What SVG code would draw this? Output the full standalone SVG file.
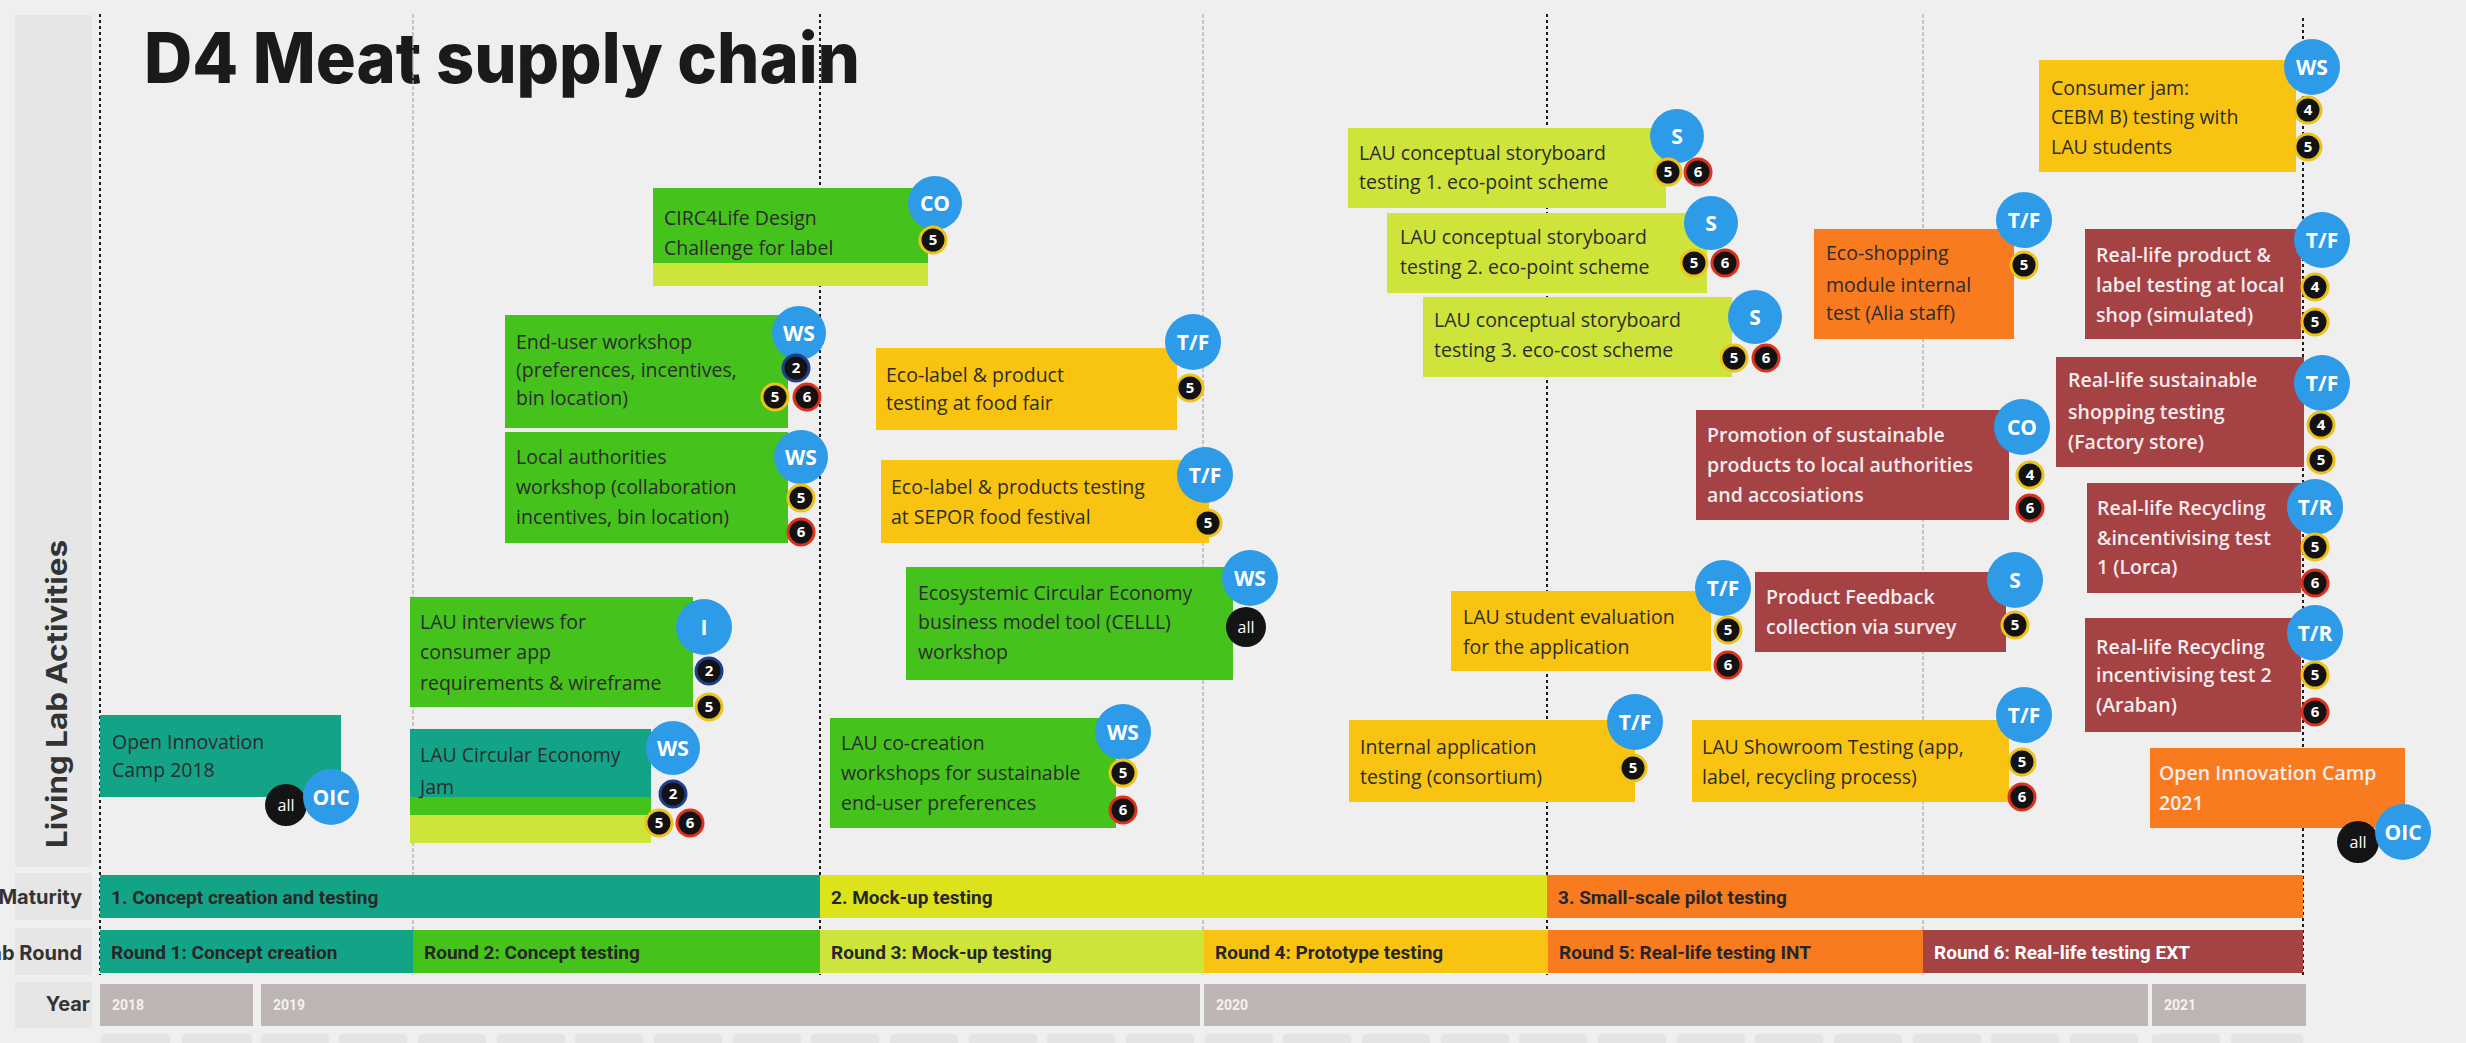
<svg xmlns="http://www.w3.org/2000/svg" width="2466" height="1043" viewBox="0 0 2466 1043">
  <style>
    .title { font-family: Inter, "Noto Sans", "DejaVu Sans", sans-serif; font-weight: 800; fill: #1a1a1a; }
    .side { font-family: Inter, "Noto Sans", sans-serif; font-weight: 700; fill: #333; }
    .lbl { font-family: "Open Sans", "Noto Sans", sans-serif; font-size: 19.5px; fill: #2c2c2c; }
    .lbl.w { fill: #f6ecef; font-weight: 600; }
    .bar { font-family: Roboto, "Noto Sans", sans-serif; font-weight: 700; font-size: 19px; fill: #262626; }
    .bar.w { fill: #ffffff; }
    .yr { font-family: Roboto, "Noto Sans", sans-serif; font-weight: 700; font-size: 14px; fill: #f5f1f0; }
    .teal { fill: #13a487; }
    .green { fill: #45c21c; }
    .lime { fill: #cee43b; }
    .mlime { fill: #dde31b; }
    .yellow { fill: #f9c411; }
    .orange { fill: #f97b1f; }
    .maroon { fill: #a54244; }
    .grey { fill: #bdb5b3; }
    .month { fill: #e4e4e4; }
    .cell { fill: #e6e6e6; }
    .dark { stroke: #1c1c1c; stroke-width: 2; stroke-dasharray: 3 3; fill: none; }
    .thin { stroke: #a9a9a9; stroke-width: 1.2; stroke-dasharray: 4 2; fill: none; }
    .tag circle { fill: #2e9be9; }
    .tag text { font-family: "Open Sans", "Noto Sans", sans-serif; font-weight: 700; font-size: 21px; fill: #ffffff; text-anchor: middle; }
    .num circle { fill: #121212; stroke-width: 3; }
    .num text { font-family: "Open Sans", "Noto Sans", sans-serif; font-weight: 700; font-size: 15px; fill: #ffffff; text-anchor: middle; }
    .n2 circle { stroke: #1f3f8c; }
    .n4 circle { stroke: #e7c21c; }
    .n5 circle { stroke: #efc219; }
    .n6 circle { stroke: #df301e; }
    .all circle { fill: #141414; }
    .all text { font-family: "Open Sans", "Noto Sans", sans-serif; font-size: 16px; fill: #ffffff; text-anchor: middle; }
  </style>

  <rect x="0" y="0" width="2466" height="1043" fill="#efefef"/>

  <!-- left header column -->
  <g id="side-column">
    <rect class="cell" x="15" y="15" width="77" height="852"/>
    <rect class="cell" x="15" y="873" width="77" height="47"/>
    <rect class="cell" x="15" y="928" width="77" height="47"/>
    <rect class="cell" x="15" y="982" width="77" height="46"/>
    <text class="side" font-size="28" transform="translate(67,694) rotate(-90)" text-anchor="middle" textLength="308" lengthAdjust="spacingAndGlyphs">Living Lab Activities</text>
    <text class="side" font-size="20" x="82" y="904" text-anchor="end">Maturity</text>
    <text class="side" font-size="20" x="82" y="960" text-anchor="end">Lab Round</text>
    <text class="side" font-size="20" x="90" y="1011" text-anchor="end">Year</text>
  </g>

  <text class="title" x="144" y="83" font-size="70" textLength="716" lengthAdjust="spacingAndGlyphs">D4 Meat supply chain</text>

  <!-- period boundaries -->
  <g id="gridlines">
    <line class="dark" x1="100" y1="14" x2="100" y2="975"/>
    <line class="thin" x1="413" y1="14" x2="413" y2="975"/>
    <line class="dark" x1="820" y1="14" x2="820" y2="975"/>
    <line class="thin" x1="1203" y1="14" x2="1203" y2="975"/>
    <line class="dark" x1="1547" y1="14" x2="1547" y2="975"/>
    <line class="thin" x1="1923" y1="14" x2="1923" y2="975"/>
    <line class="dark" x1="2303" y1="18" x2="2303" y2="975"/>
  </g>

  <!-- timeline bars -->
  <g id="maturity">
    <rect class="teal" x="100" y="875" width="720" height="43"/>
    <rect class="mlime" x="820" y="875" width="727" height="43"/>
    <rect class="orange" x="1547" y="875" width="756" height="43"/>
    <text class="bar" x="111" y="904">1. Concept creation and testing</text>
    <text class="bar" x="831" y="904">2. Mock-up testing</text>
    <text class="bar" x="1558" y="904">3. Small-scale pilot testing</text>
  </g>
  <g id="lab-round">
    <rect class="teal" x="100" y="930" width="313" height="43"/>
    <rect class="green" x="413" y="930" width="407" height="43"/>
    <rect class="lime" x="820" y="930" width="384" height="43"/>
    <rect class="yellow" x="1204" y="930" width="344" height="43"/>
    <rect class="orange" x="1548" y="930" width="375" height="43"/>
    <rect class="maroon" x="1923" y="930" width="380" height="43"/>
    <text class="bar" x="111" y="959">Round 1: Concept creation</text>
    <text class="bar" x="424" y="959">Round 2: Concept testing</text>
    <text class="bar" x="831" y="959">Round 3: Mock-up testing</text>
    <text class="bar" x="1215" y="959">Round 4: Prototype testing</text>
    <text class="bar" x="1559" y="959">Round 5: Real-life testing INT</text>
    <text class="bar w" x="1934" y="959">Round 6: Real-life testing EXT</text>
  </g>
  <g id="year">
    <rect class="grey" x="100" y="984" width="153" height="42"/>
    <rect class="grey" x="261" y="984" width="939" height="42"/>
    <rect class="grey" x="1204" y="984" width="944" height="42"/>
    <rect class="grey" x="2152" y="984" width="154" height="42"/>
    <text class="yr" x="112" y="1010">2018</text>
    <text class="yr" x="273" y="1010">2019</text>
    <text class="yr" x="1216" y="1010">2020</text>
    <text class="yr" x="2164" y="1010">2021</text>
  </g>
  <g id="months">
    <rect class="month" x="101" y="1034" width="69" height="20" rx="4"/>
    <rect class="month" x="182" y="1034" width="70" height="20" rx="4"/>
    <rect class="month" x="261" y="1034" width="68" height="20" rx="4"/>
    <rect class="month" x="339" y="1034" width="68" height="20" rx="4"/>
    <rect class="month" x="418" y="1034" width="68" height="20" rx="4"/>
    <rect class="month" x="497" y="1034" width="68" height="20" rx="4"/>
    <rect class="month" x="575" y="1034" width="68" height="20" rx="4"/>
    <rect class="month" x="654" y="1034" width="68" height="20" rx="4"/>
    <rect class="month" x="733" y="1034" width="68" height="20" rx="4"/>
    <rect class="month" x="811" y="1034" width="68" height="20" rx="4"/>
    <rect class="month" x="890" y="1034" width="68" height="20" rx="4"/>
    <rect class="month" x="969" y="1034" width="68" height="20" rx="4"/>
    <rect class="month" x="1047" y="1034" width="68" height="20" rx="4"/>
    <rect class="month" x="1126" y="1034" width="68" height="20" rx="4"/>
    <rect class="month" x="1205" y="1034" width="68" height="20" rx="4"/>
    <rect class="month" x="1283" y="1034" width="68" height="20" rx="4"/>
    <rect class="month" x="1362" y="1034" width="68" height="20" rx="4"/>
    <rect class="month" x="1441" y="1034" width="68" height="20" rx="4"/>
    <rect class="month" x="1519" y="1034" width="68" height="20" rx="4"/>
    <rect class="month" x="1598" y="1034" width="68" height="20" rx="4"/>
    <rect class="month" x="1677" y="1034" width="68" height="20" rx="4"/>
    <rect class="month" x="1755" y="1034" width="68" height="20" rx="4"/>
    <rect class="month" x="1834" y="1034" width="68" height="20" rx="4"/>
    <rect class="month" x="1913" y="1034" width="68" height="20" rx="4"/>
    <rect class="month" x="1991" y="1034" width="68" height="20" rx="4"/>
    <rect class="month" x="2070" y="1034" width="68" height="20" rx="4"/>
    <rect class="month" x="2152" y="1034" width="68" height="20" rx="4"/>
    <rect class="month" x="2231" y="1034" width="72" height="20" rx="4"/>
  </g>

  <!-- activities -->
  <g id="oic-2018">
    <rect class="teal" x="100" y="715" width="241" height="82"/>
    <text class="lbl" x="112" y="749">Open Innovation</text>
    <text class="lbl" x="112" y="777">Camp 2018</text>
    <g class="all"><circle cx="286" cy="805" r="21"/><text x="286" y="811">all</text></g>
    <g class="tag"><circle cx="331" cy="797" r="28"/><text x="331" y="805">OIC</text></g>
  </g>

  <g id="circ4life-challenge">
    <rect class="green" x="653" y="188" width="275" height="75"/>
    <rect class="lime" x="653" y="263" width="275" height="23"/>
    <text class="lbl" x="664" y="225">CIRC4Life Design</text>
    <text class="lbl" x="664" y="255">Challenge for label</text>
    <g class="tag"><circle cx="935" cy="203" r="27"/><text x="935" y="211">CO</text></g>
    <g class="num n5"><circle cx="933" cy="240" r="13"/><text x="933" y="245">5</text></g>
  </g>

  <g id="end-user-workshop">
    <rect class="green" x="505" y="315" width="283" height="113"/>
    <text class="lbl" x="516" y="349">End-user workshop</text>
    <text class="lbl" x="516" y="377">(preferences, incentives,</text>
    <text class="lbl" x="516" y="405">bin location)</text>
    <g class="tag"><circle cx="799" cy="333" r="27"/><text x="799" y="341">WS</text></g>
    <g class="num n2"><circle cx="796" cy="368" r="13"/><text x="796" y="373">2</text></g>
    <g class="num n5"><circle cx="775" cy="397" r="13"/><text x="775" y="402">5</text></g>
    <g class="num n6"><circle cx="807" cy="397" r="13"/><text x="807" y="402">6</text></g>
  </g>

  <g id="local-authorities-workshop">
    <rect class="green" x="505" y="432" width="283" height="111"/>
    <text class="lbl" x="516" y="464">Local authorities</text>
    <text class="lbl" x="516" y="494">workshop (collaboration</text>
    <text class="lbl" x="516" y="524">incentives, bin location)</text>
    <g class="tag"><circle cx="801" cy="457" r="27"/><text x="801" y="465">WS</text></g>
    <g class="num n5"><circle cx="801" cy="498" r="13"/><text x="801" y="503">5</text></g>
    <g class="num n6"><circle cx="801" cy="532" r="13"/><text x="801" y="537">6</text></g>
  </g>

  <g id="lau-interviews">
    <rect class="green" x="410" y="597" width="283" height="110"/>
    <text class="lbl" x="420" y="629">LAU interviews for</text>
    <text class="lbl" x="420" y="659">consumer app</text>
    <text class="lbl" x="420" y="690">requirements &amp; wireframe</text>
    <g class="tag"><circle cx="704" cy="627" r="28"/><text x="704" y="635">I</text></g>
    <g class="num n2"><circle cx="709" cy="671" r="13"/><text x="709" y="676">2</text></g>
    <g class="num n5"><circle cx="709" cy="707" r="13"/><text x="709" y="712">5</text></g>
  </g>

  <g id="lau-ce-jam">
    <rect class="teal" x="410" y="729" width="241" height="68"/>
    <rect class="green" x="410" y="797" width="241" height="18"/>
    <rect class="lime" x="410" y="815" width="241" height="28"/>
    <text class="lbl" x="420" y="762">LAU Circular Economy</text>
    <text class="lbl" x="420" y="794">Jam</text>
    <g class="tag"><circle cx="673" cy="748" r="27"/><text x="673" y="756">WS</text></g>
    <g class="num n2"><circle cx="673" cy="794" r="13"/><text x="673" y="799">2</text></g>
    <g class="num n5"><circle cx="659" cy="823" r="13"/><text x="659" y="828">5</text></g>
    <g class="num n6"><circle cx="690" cy="823" r="13"/><text x="690" y="828">6</text></g>
  </g>

  <g id="eco-label-food-fair">
    <rect class="yellow" x="876" y="348" width="301" height="82"/>
    <text class="lbl" x="886" y="382">Eco-label &amp; product</text>
    <text class="lbl" x="886" y="410">testing at food fair</text>
    <g class="tag"><circle cx="1193" cy="342" r="28"/><text x="1193" y="350">T/F</text></g>
    <g class="num n5"><circle cx="1190" cy="388" r="13"/><text x="1190" y="393">5</text></g>
  </g>

  <g id="eco-label-sepor">
    <rect class="yellow" x="881" y="460" width="328" height="83"/>
    <text class="lbl" x="891" y="494">Eco-label &amp; products testing</text>
    <text class="lbl" x="891" y="524">at SEPOR food festival</text>
    <g class="tag"><circle cx="1205" cy="475" r="28"/><text x="1205" y="483">T/F</text></g>
    <g class="num n5"><circle cx="1208" cy="523" r="13"/><text x="1208" y="528">5</text></g>
  </g>

  <g id="cellll-workshop">
    <rect class="green" x="906" y="567" width="327" height="113"/>
    <text class="lbl" x="918" y="600">Ecosystemic Circular Economy</text>
    <text class="lbl" x="918" y="629">business model tool (CELLL)</text>
    <text class="lbl" x="918" y="659">workshop</text>
    <g class="tag"><circle cx="1250" cy="578" r="28"/><text x="1250" y="586">WS</text></g>
    <g class="all"><circle cx="1246" cy="627" r="20"/><text x="1246" y="633">all</text></g>
  </g>

  <g id="lau-co-creation">
    <rect class="green" x="830" y="718" width="286" height="110"/>
    <text class="lbl" x="841" y="750">LAU co-creation</text>
    <text class="lbl" x="841" y="780">workshops for sustainable</text>
    <text class="lbl" x="841" y="810">end-user preferences</text>
    <g class="tag"><circle cx="1123" cy="732" r="28"/><text x="1123" y="740">WS</text></g>
    <g class="num n5"><circle cx="1123" cy="773" r="13"/><text x="1123" y="778">5</text></g>
    <g class="num n6"><circle cx="1123" cy="810" r="13"/><text x="1123" y="815">6</text></g>
  </g>

  <g id="storyboard-1">
    <rect class="lime" x="1348" y="128" width="318" height="80"/>
    <text class="lbl" x="1359" y="160">LAU conceptual storyboard</text>
    <text class="lbl" x="1359" y="189">testing 1. eco-point scheme</text>
    <g class="tag"><circle cx="1677" cy="136" r="27"/><text x="1677" y="144">S</text></g>
    <g class="num n5"><circle cx="1668" cy="172" r="13"/><text x="1668" y="177">5</text></g>
    <g class="num n6"><circle cx="1698" cy="172" r="13"/><text x="1698" y="177">6</text></g>
  </g>

  <g id="storyboard-2">
    <rect class="lime" x="1387" y="213" width="320" height="80"/>
    <text class="lbl" x="1400" y="244">LAU conceptual storyboard</text>
    <text class="lbl" x="1400" y="274">testing 2. eco-point scheme</text>
    <g class="tag"><circle cx="1711" cy="223" r="27"/><text x="1711" y="231">S</text></g>
    <g class="num n5"><circle cx="1694" cy="263" r="13"/><text x="1694" y="268">5</text></g>
    <g class="num n6"><circle cx="1725" cy="263" r="13"/><text x="1725" y="268">6</text></g>
  </g>

  <g id="storyboard-3">
    <rect class="lime" x="1423" y="297" width="309" height="80"/>
    <text class="lbl" x="1434" y="327">LAU conceptual storyboard</text>
    <text class="lbl" x="1434" y="357">testing 3. eco-cost scheme</text>
    <g class="tag"><circle cx="1755" cy="317" r="27"/><text x="1755" y="325">S</text></g>
    <g class="num n5"><circle cx="1734" cy="358" r="13"/><text x="1734" y="363">5</text></g>
    <g class="num n6"><circle cx="1766" cy="358" r="13"/><text x="1766" y="363">6</text></g>
  </g>

  <g id="internal-app-testing">
    <rect class="yellow" x="1349" y="720" width="286" height="82"/>
    <text class="lbl" x="1360" y="754">Internal application</text>
    <text class="lbl" x="1360" y="784">testing (consortium)</text>
    <g class="tag"><circle cx="1635" cy="722" r="28"/><text x="1635" y="730">T/F</text></g>
    <g class="num n5"><circle cx="1633" cy="768" r="13"/><text x="1633" y="773">5</text></g>
  </g>

  <g id="lau-student-evaluation">
    <rect class="yellow" x="1451" y="591" width="260" height="80"/>
    <text class="lbl" x="1463" y="624">LAU student evaluation</text>
    <text class="lbl" x="1463" y="654">for the application</text>
    <g class="tag"><circle cx="1723" cy="588" r="28"/><text x="1723" y="596">T/F</text></g>
    <g class="num n5"><circle cx="1728" cy="630" r="13"/><text x="1728" y="635">5</text></g>
    <g class="num n6"><circle cx="1728" cy="665" r="13"/><text x="1728" y="670">6</text></g>
  </g>

  <g id="product-feedback">
    <rect class="maroon" x="1755" y="572" width="251" height="80"/>
    <text class="lbl w" x="1766" y="604">Product Feedback</text>
    <text class="lbl w" x="1766" y="634">collection via survey</text>
    <g class="tag"><circle cx="2015" cy="580" r="28"/><text x="2015" y="588">S</text></g>
    <g class="num n5"><circle cx="2015" cy="625" r="13"/><text x="2015" y="630">5</text></g>
  </g>

  <g id="promotion">
    <rect class="maroon" x="1696" y="410" width="313" height="110"/>
    <text class="lbl w" x="1707" y="442">Promotion of sustainable</text>
    <text class="lbl w" x="1707" y="472">products to local authorities</text>
    <text class="lbl w" x="1707" y="502">and accosiations</text>
    <g class="tag"><circle cx="2022" cy="427" r="28"/><text x="2022" y="435">CO</text></g>
    <g class="num n4"><circle cx="2030" cy="475" r="13"/><text x="2030" y="480">4</text></g>
    <g class="num n6"><circle cx="2030" cy="508" r="13"/><text x="2030" y="513">6</text></g>
  </g>

  <g id="lau-showroom">
    <rect class="yellow" x="1692" y="720" width="317" height="82"/>
    <text class="lbl" x="1702" y="754">LAU Showroom Testing (app,</text>
    <text class="lbl" x="1702" y="784">label, recycling process)</text>
    <g class="tag"><circle cx="2024" cy="715" r="28"/><text x="2024" y="723">T/F</text></g>
    <g class="num n5"><circle cx="2022" cy="762" r="13"/><text x="2022" y="767">5</text></g>
    <g class="num n6"><circle cx="2022" cy="797" r="13"/><text x="2022" y="802">6</text></g>
  </g>

  <g id="eco-shopping">
    <rect class="orange" x="1814" y="229" width="200" height="110"/>
    <text class="lbl" x="1826" y="260">Eco-shopping</text>
    <text class="lbl" x="1826" y="292">module internal</text>
    <text class="lbl" x="1826" y="320">test (Alia staff)</text>
    <g class="tag"><circle cx="2024" cy="220" r="28"/><text x="2024" y="228">T/F</text></g>
    <g class="num n5"><circle cx="2024" cy="265" r="13"/><text x="2024" y="270">5</text></g>
  </g>

  <g id="consumer-jam">
    <rect class="yellow" x="2039" y="60" width="257" height="112"/>
    <text class="lbl" x="2051" y="95">Consumer jam:</text>
    <text class="lbl" x="2051" y="124">CEBM B) testing with</text>
    <text class="lbl" x="2051" y="154">LAU students</text>
    <g class="tag"><circle cx="2312" cy="67" r="28"/><text x="2312" y="75">WS</text></g>
    <g class="num n4"><circle cx="2308" cy="110" r="13"/><text x="2308" y="115">4</text></g>
    <g class="num n5"><circle cx="2308" cy="147" r="13"/><text x="2308" y="152">5</text></g>
  </g>

  <g id="real-life-label-testing">
    <rect class="maroon" x="2085" y="229" width="216" height="110"/>
    <text class="lbl w" x="2096" y="262">Real-life product &amp;</text>
    <text class="lbl w" x="2096" y="292">label testing at local</text>
    <text class="lbl w" x="2096" y="322">shop (simulated)</text>
    <g class="tag"><circle cx="2322" cy="240" r="28"/><text x="2322" y="248">T/F</text></g>
    <g class="num n4"><circle cx="2315" cy="287" r="13"/><text x="2315" y="292">4</text></g>
    <g class="num n5"><circle cx="2315" cy="322" r="13"/><text x="2315" y="327">5</text></g>
  </g>

  <g id="real-life-shopping">
    <rect class="maroon" x="2056" y="357" width="248" height="110"/>
    <text class="lbl w" x="2068" y="387">Real-life sustainable</text>
    <text class="lbl w" x="2068" y="419">shopping testing</text>
    <text class="lbl w" x="2068" y="449">(Factory store)</text>
    <g class="tag"><circle cx="2322" cy="383" r="28"/><text x="2322" y="391">T/F</text></g>
    <g class="num n4"><circle cx="2321" cy="425" r="13"/><text x="2321" y="430">4</text></g>
    <g class="num n5"><circle cx="2321" cy="460" r="13"/><text x="2321" y="465">5</text></g>
  </g>

  <g id="recycling-test-1">
    <rect class="maroon" x="2087" y="483" width="214" height="110"/>
    <text class="lbl w" x="2097" y="515">Real-life Recycling</text>
    <text class="lbl w" x="2097" y="545">&amp;incentivising test</text>
    <text class="lbl w" x="2097" y="574">1 (Lorca)</text>
    <g class="tag"><circle cx="2315" cy="507" r="28"/><text x="2315" y="515">T/R</text></g>
    <g class="num n5"><circle cx="2315" cy="547" r="13"/><text x="2315" y="552">5</text></g>
    <g class="num n6"><circle cx="2315" cy="583" r="13"/><text x="2315" y="588">6</text></g>
  </g>

  <g id="recycling-test-2">
    <rect class="maroon" x="2085" y="618" width="216" height="114"/>
    <text class="lbl w" x="2096" y="654">Real-life Recycling</text>
    <text class="lbl w" x="2096" y="682">incentivising test 2</text>
    <text class="lbl w" x="2096" y="712">(Araban)</text>
    <g class="tag"><circle cx="2315" cy="633" r="28"/><text x="2315" y="641">T/R</text></g>
    <g class="num n5"><circle cx="2315" cy="675" r="13"/><text x="2315" y="680">5</text></g>
    <g class="num n6"><circle cx="2315" cy="712" r="13"/><text x="2315" y="717">6</text></g>
  </g>

  <g id="oic-2021">
    <rect class="orange" x="2150" y="748" width="255" height="80"/>
    <text class="lbl w" x="2159" y="780">Open Innovation Camp</text>
    <text class="lbl w" x="2159" y="810">2021</text>
    <g class="all"><circle cx="2358" cy="842" r="21"/><text x="2358" y="848">all</text></g>
    <g class="tag"><circle cx="2403" cy="832" r="28"/><text x="2403" y="840">OIC</text></g>
  </g>
</svg>
